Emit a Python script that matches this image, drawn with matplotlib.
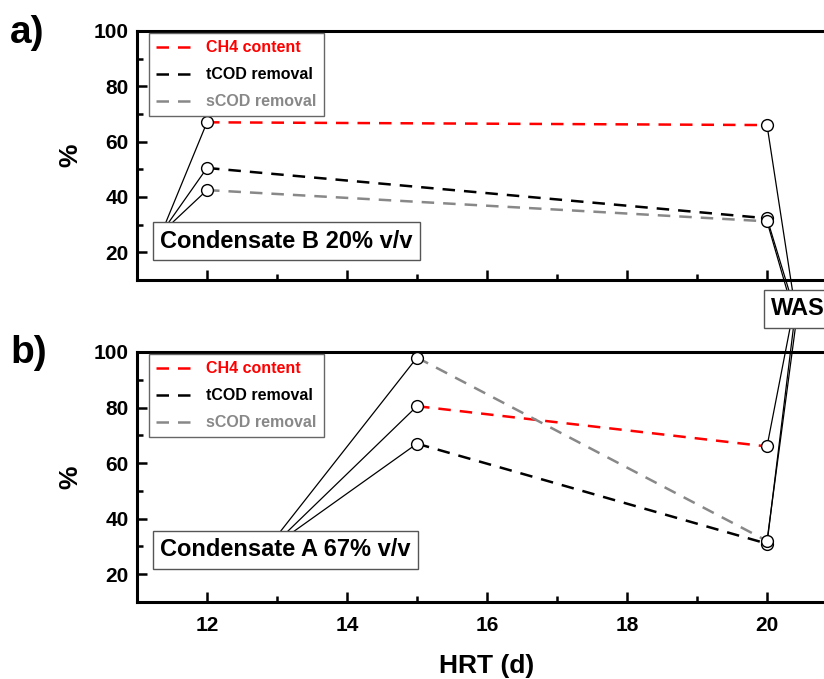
import matplotlib
matplotlib.use("Agg")
import matplotlib.pyplot as plt
from matplotlib.ticker import MultipleLocator

plt.rcParams['font.family'] = ['Liberation Sans', 'DejaVu Sans']
plt.rcParams['font.weight'] = 'bold'

# HRT (d) and performance (%) for each feed
series_names = ['CH4 content', 'tCOD removal', 'sCOD removal']
series_colors = ['#ff0000', '#000000', '#888888']

hrt_b = [12, 20]
ch4_b = [67.0, 66.0]
tcod_b = [50.5, 32.3]
scod_b = [42.5, 31.2]

hrt_a = [15, 20]
ch4_a = [80.5, 66.0]
tcod_a = [67.0, 31.0]
scod_a = [98.0, 32.0]

xticks = [12, 14, 16, 18, 20]
yticks = [20, 40, 60, 80, 100]

W, H = 824, 679
fig = plt.figure(figsize=(W / 100, H / 100), dpi=100)
ax1 = fig.add_axes([137 / W, 1 - 280 / H, 700 / W, 249 / H])
ax2 = fig.add_axes([137 / W, 1 - 602 / H, 700 / W, 250 / H])


def style_axes(ax, show_xlabels):
    ax.set_xlim(11, 21)
    ax.set_ylim(10, 100)
    ax.set_xticks(xticks)
    ax.set_yticks(yticks)
    ax.xaxis.set_minor_locator(MultipleLocator(1))
    ax.yaxis.set_minor_locator(MultipleLocator(10))
    ax.tick_params(which='both', direction='in', top=False, right=False,
                   width=1.8, labelsize=15)
    ax.tick_params(which='major', length=7)
    ax.tick_params(which='minor', length=4)
    ax.tick_params(axis='y', pad=6)
    ax.tick_params(axis='x', pad=10)
    for s in ax.spines.values():
        s.set_linewidth(2.2)
    if not show_xlabels:
        ax.tick_params(axis='x', labelbottom=False)
    for lab in ax.get_xticklabels() + ax.get_yticklabels():
        lab.set_fontweight('bold')
    ax.set_ylabel('%', fontsize=19, fontweight='bold', labelpad=8)


def draw_series(ax, xs, ys_list):
    for name, c, ys in zip(series_names, series_colors, ys_list):
        ax.plot(xs, ys, color=c, lw=1.8, dashes=(5, 3.6), label=name, zorder=3)
        ax.plot(xs, ys, ls='none', marker='o', ms=8.5, mfc='white', mec='black',
                mew=1.0, zorder=5)
    leg = ax.legend(loc='upper left', bbox_to_anchor=(12 / 700, 1 - 2 / 249),
                    fancybox=False, framealpha=1, edgecolor='#666666',
                    fontsize=11.5, labelcolor='linecolor', handlelength=2.3,
                    handletextpad=0.85, labelspacing=0.75, borderpad=0.45,
                    borderaxespad=0)
    leg.get_frame().set_linewidth(1.0)
    for t in leg.get_texts():
        t.set_fontweight('bold')


def leader(ax, xy, start):
    # thin line from a label box to a data point
    ax.annotate('', xy=xy, xytext=(start[0], H - start[1]),
                textcoords='figure pixels',
                arrowprops=dict(arrowstyle='-', color='black', lw=0.9,
                                shrinkA=0, shrinkB=0),
                zorder=4)


style_axes(ax1, False)
style_axes(ax2, True)
draw_series(ax1, hrt_b, [ch4_b, tcod_b, scod_b])
draw_series(ax2, hrt_a, [ch4_a, tcod_a, scod_a])
ax2.set_xlabel('HRT (d)', fontsize=19, fontweight='bold', labelpad=14)

box = dict(boxstyle='square,pad=0.3', fc='white', ec='#555555', lw=1.0)

# Condensate B leaders (panel a, HRT 12)
for y, sx in zip([ch4_b[0], tcod_b[0], scod_b[0]], [166, 169, 173]):
    leader(ax1, (hrt_b[0], y), (sx, 222))
fig.text(160 / W, 1 - 241 / H, 'Condensate B 20% v/v', fontsize=17,
         fontweight='bold', ha='left', va='center', bbox=box, zorder=6)

# Condensate A leaders (panel b, HRT 15)
for y, sx in zip([scod_a[0], ch4_a[0], tcod_a[0]], [280, 287, 293]):
    leader(ax2, (hrt_a[0], y), (sx, 532))
fig.text(160 / W, 1 - 550 / H, 'Condensate A 67% v/v', fontsize=17,
         fontweight='bold', ha='left', va='center', bbox=box, zorder=6)

# WAS leaders to HRT 20 in both panels
for y, sx in zip([ch4_b[1], tcod_b[1], scod_b[1]], [793, 790, 788]):
    leader(ax1, (hrt_b[1], y), (sx, 294))
for y, sx in zip([ch4_a[1], tcod_a[1], scod_a[1]], [791, 794, 796]):
    leader(ax2, (hrt_a[1], y), (sx, 323))
fig.text(771 / W, 1 - 309 / H, 'WAS', fontsize=17, fontweight='bold',
         ha='left', va='center', bbox=box, zorder=6)

fig.text(10 / W, 1 - 33 / H, 'a)', fontsize=28, fontweight='bold',
         ha='left', va='center')
fig.text(10 / W, 1 - 353 / H, 'b)', fontsize=28, fontweight='bold',
         ha='left', va='center')

fig.savefig('out.png', dpi=100)
